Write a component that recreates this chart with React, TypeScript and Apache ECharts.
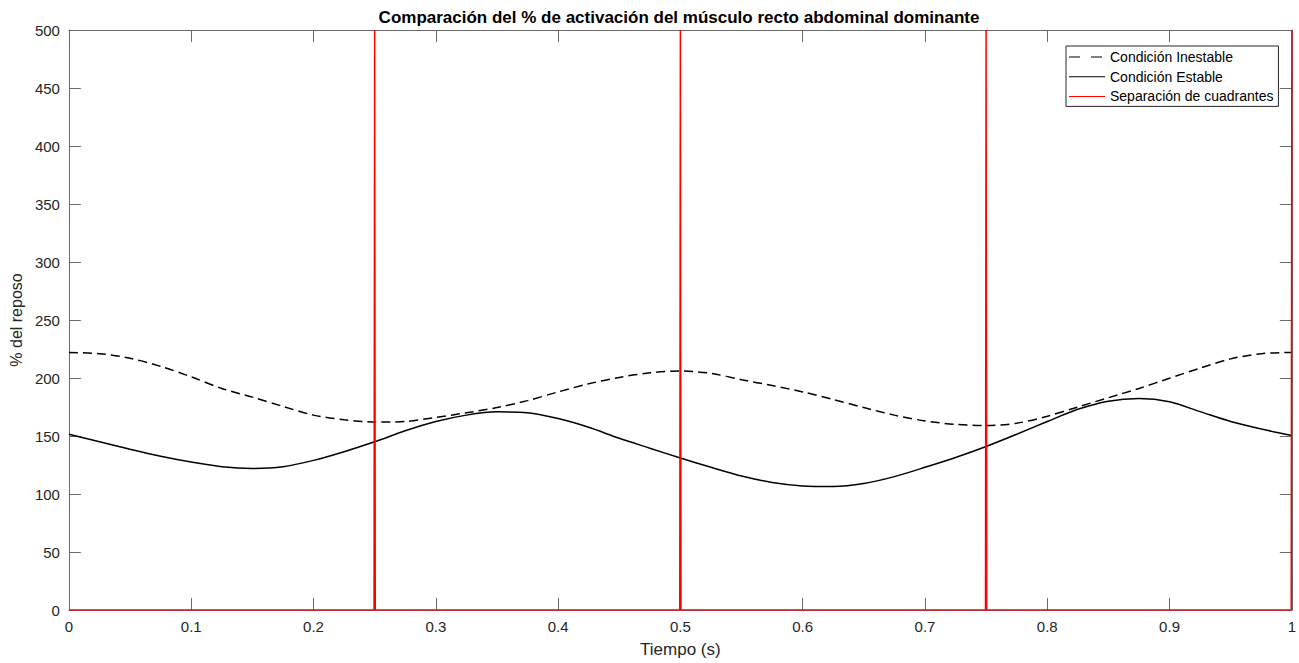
import React, { useEffect, useRef } from "react";
import * as echarts from "echarts";

const titleText = "Comparación del % de activación del músculo recto abdominal dominante";
const xName = "Tiempo (s)";
const yName = "% del reposo";
const seriesNames = ["Condición Inestable", "Condición Estable", "Separación de cuadrantes"];

const tiempo = [
  0, 0.025, 0.05, 0.075, 0.1, 0.125, 0.15, 0.175, 0.2, 0.225,
  0.25, 0.275, 0.3, 0.325, 0.35, 0.375, 0.4, 0.425, 0.45, 0.475,
  0.5, 0.525, 0.55, 0.575, 0.6, 0.625, 0.65, 0.675, 0.7, 0.725,
  0.75, 0.775, 0.8, 0.825, 0.85, 0.875, 0.9, 0.925, 0.95, 0.975, 1.0,
];
const inestable = [
  222, 221, 217, 210, 201, 191, 183.5, 175.5, 168, 164,
  162, 162.5, 166, 170, 174.5, 180.5, 188, 195, 200.5, 204.5,
  206, 204, 198.5, 193.5, 188, 181.5, 174.5, 168, 163, 160,
  159, 161, 167, 175, 183, 191, 199.8, 208.5, 216.5, 221, 222,
];
const estable = [
  151.5, 145, 138.5, 132.5, 127.5, 123.5, 122, 123.5, 129, 136.5,
  145, 154.5, 162.5, 168, 170.8, 170, 165, 157.5, 148, 139.5,
  131, 123, 115.5, 110, 107, 106.5, 109, 115, 123, 131.5,
  141, 151.5, 162.5, 173, 180, 182.3, 179.5, 171, 162.5, 156, 150.5,
];

const sepTiempo = [0, 0.2495, 0.25, 0.2505, 0.4995, 0.5, 0.5005, 0.7495, 0.75, 0.7505, 0.9995, 1.0];
const sepValor = [0, 0, 500, 0, 0, 500, 0, 0, 500, 0, 0, 500];

const dashedIcon = "path://M0,0 h11 v1 h-11 Z M22,0 h11 v1 h-11 Z M35.9,0 h0.1 v1 h-0.1 Z";
const solidIcon = "path://M0,0 h36 v1 h-36 Z";

export default function App() {
  const ref = useRef<HTMLDivElement>(null);
  useEffect(() => {
    if (!ref.current) return;
    const chart = echarts.init(ref.current, undefined, { renderer: "svg" });
    const axisColor = "#262626";
    const lineColor = "#6a6a6a";
    const font = "Liberation Sans, Arial, sans-serif";
    const baseAxis = {
      type: "value" as const,
      axisLine: { show: true, onZero: false, lineStyle: { color: lineColor, width: 1 } },
      axisTick: { show: true, inside: true, length: 12, lineStyle: { color: lineColor } },
      splitLine: { show: false },
    };
    chart.setOption({
      animation: false,
      backgroundColor: "#ffffff",
      title: {
        text: titleText,
        left: 674,
        textAlign: "center",
        top: 4,
        textStyle: { fontFamily: font, fontSize: 17, fontWeight: "bold", color: "#000" },
      },
      grid: { left: 65, right: 4, top: 30, bottom: 51, containLabel: false },
      legend: {
        orient: "vertical",
        left: 1066,
        top: 46,
        itemWidth: 36,
        itemHeight: 1.5,
        itemGap: 3.7,
        padding: [3, 5, 2, 3],
        borderColor: axisColor,
        borderWidth: 1,
        borderRadius: 0,
        backgroundColor: "#fff",
        textStyle: { fontFamily: font, fontSize: 14, lineHeight: 16, color: "#000" },
        data: [
          { name: seriesNames[0], icon: dashedIcon },
          { name: seriesNames[1], icon: solidIcon },
          { name: seriesNames[2], icon: solidIcon },
        ],
      },
      xAxis: [
        {
          ...baseAxis,
          min: 0,
          max: 1,
          interval: 0.1,
          position: "bottom",
          name: xName,
          nameLocation: "middle",
          nameGap: 31,
          nameTextStyle: { fontFamily: font, fontSize: 17, color: axisColor },
          axisLabel: { fontFamily: font, fontSize: 15, color: axisColor, margin: 9 },
        },
        {
          ...baseAxis,
          min: 0,
          max: 1,
          interval: 0.1,
          position: "top",
          axisLabel: { show: false },
        },
      ],
      yAxis: [
        {
          ...baseAxis,
          min: 0,
          max: 500,
          interval: 50,
          position: "left",
          name: yName,
          nameLocation: "middle",
          nameGap: 39,
          nameTextStyle: { fontFamily: font, fontSize: 16, color: axisColor },
          axisLabel: { fontFamily: font, fontSize: 15, color: axisColor, margin: 9 },
        },
        {
          ...baseAxis,
          min: 0,
          max: 500,
          interval: 50,
          position: "right",
          axisLabel: { show: false },
        },
      ],
      series: [
        {
          name: seriesNames[0],
          type: "line",
          data: tiempo.map((t, i) => [t, inestable[i]]),
          smooth: 0.3,
          symbol: "none",
          lineStyle: { color: "#000", width: 1.5, type: [9, 5] },
          itemStyle: { color: "#000" },
        },
        {
          name: seriesNames[1],
          type: "line",
          data: tiempo.map((t, i) => [t, estable[i]]),
          smooth: 0.3,
          symbol: "none",
          lineStyle: { color: "#000", width: 1.5 },
          itemStyle: { color: "#000" },
        },
        {
          name: seriesNames[2],
          type: "line",
          data: sepTiempo.map((t, i) => [t, sepValor[i]]),
          symbol: "none",
          clip: true,
          lineStyle: { color: "#ff0000", width: 1.5 },
          itemStyle: { color: "#ff0000" },
          z: 3,
        },
      ],
    });
    return () => chart.dispose();
  }, []);
  return (
    <div
      ref={ref}
      style={{ position: "fixed", left: 0, top: 0, width: 1299, height: 663, background: "#fff" }}
    />
  );
}
